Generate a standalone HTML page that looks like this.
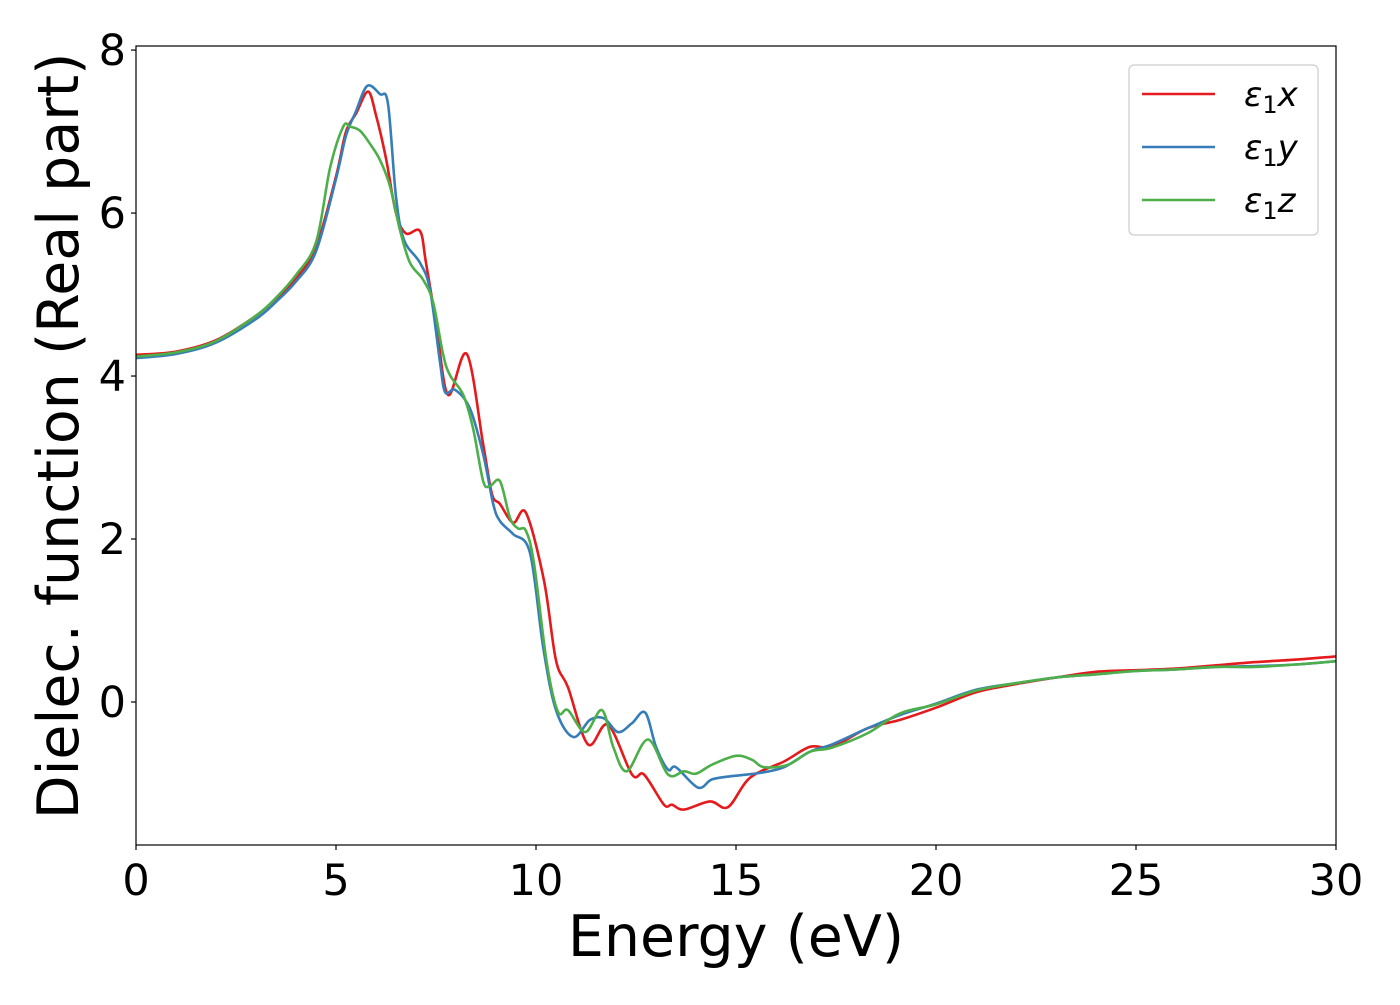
<!DOCTYPE html>
<html><head><meta charset="utf-8"><style>
html,body{margin:0;padding:0;background:#fff;}
svg text{font-family:"DejaVu Sans","Liberation Sans",sans-serif;}
</style></head><body>
<svg width="1400" height="1000" xmlns="http://www.w3.org/2000/svg">
<g id="plot"></g>
<g id="axes"></g>
</svg>
<script>
const xTicks=[0,5,10,15,20,25,30];
const yTicks=[0,2,4,6,8];
const seriesNames=["ε1x","ε1y","ε1z"];
const seriesColors=["#e41a1c","#377eb8","#4daf4a"];
const redE=[0,1,2,3,3.5,4,4.5,5,5.25,5.5,5.8,6.0,6.25,6.5,6.75,7.1,7.25,7.5,7.8,8.27,8.68,8.9,9.1,9.43,9.75,10.2,10.5,10.8,11.3,11.8,12.4,12.7,13.2,13.4,13.7,14.35,14.8,15.35,16.2,16.85,17.4,18.3,19.1,20,21,22,23,24,25,26,27,28,29,30];
const redV=[4.26,4.3,4.44,4.74,4.95,5.2,5.58,6.45,7.0,7.22,7.49,7.2,6.67,6.0,5.75,5.78,5.39,4.66,3.77,4.27,3.16,2.55,2.43,2.2,2.32,1.49,0.51,0.18,-0.52,-0.28,-0.89,-0.89,-1.26,-1.26,-1.32,-1.22,-1.29,-0.93,-0.73,-0.55,-0.55,-0.32,-0.22,-0.07,0.12,0.22,0.3,0.37,0.39,0.41,0.45,0.49,0.52,0.56];
const blueE=[0,1,2,3,3.5,4,4.5,5,5.25,5.5,5.78,6.1,6.3,6.5,6.7,7.1,7.35,7.6,7.73,7.98,8.35,8.68,8.93,9.1,9.43,9.85,10.18,10.5,10.93,11.35,11.7,12.05,12.4,12.73,13.0,13.3,13.5,14.05,14.4,14.9,15.6,16.2,16.85,17.4,18.3,19.1,20,21,22,23,24,25,26,27,28,29,30];
const blueV=[4.22,4.27,4.41,4.7,4.91,5.16,5.53,6.42,6.95,7.25,7.56,7.46,7.34,6.2,5.67,5.39,5.06,4.17,3.8,3.83,3.6,3.04,2.43,2.22,2.06,1.83,0.67,-0.1,-0.43,-0.22,-0.2,-0.37,-0.26,-0.13,-0.55,-0.83,-0.8,-1.05,-0.95,-0.91,-0.87,-0.8,-0.61,-0.52,-0.32,-0.16,-0.02,0.15,0.23,0.3,0.34,0.38,0.4,0.43,0.44,0.46,0.5];
const greenE=[0,1,2,3,3.5,4,4.5,4.85,5.18,5.35,5.6,5.85,6.1,6.35,6.6,6.85,7.18,7.43,7.68,7.85,8.18,8.43,8.68,8.85,9.1,9.35,9.55,9.75,9.95,10.27,10.55,10.8,11.23,11.65,11.93,12.27,12.8,13.3,13.7,14.0,14.4,15.0,15.4,15.7,16.3,16.85,17.4,18.3,19.1,20,21,22,23,24,25,26,27,28,29,30];
const greenV=[4.24,4.29,4.43,4.74,4.96,5.24,5.64,6.55,7.06,7.06,7.01,6.85,6.65,6.33,5.79,5.39,5.18,4.9,4.26,4.01,3.77,3.35,2.71,2.65,2.71,2.26,2.13,2.1,1.7,0.48,-0.12,-0.1,-0.37,-0.1,-0.55,-0.85,-0.46,-0.89,-0.85,-0.88,-0.77,-0.66,-0.71,-0.8,-0.77,-0.61,-0.56,-0.38,-0.14,-0.03,0.14,0.23,0.3,0.34,0.38,0.4,0.43,0.43,0.46,0.5];

const X0=136,X1=1336,Y0=46,Y1=845;
const xMin=0,xMax=30,yMin=-1.755,yMax=8.05;
function sx(v){return X0+(v-xMin)/(xMax-xMin)*(X1-X0);}
function sy(v){return Y1-(v-yMin)/(yMax-yMin)*(Y1-Y0);}
const NS="http://www.w3.org/2000/svg";
function mk(tag,attrs,parent){const e=document.createElementNS(NS,tag);for(const k in attrs)e.setAttribute(k,attrs[k]);parent.appendChild(e);return e;}
function pathFor(E,V){
  const p=E.map((e,i)=>[sx(e),sy(V[i])]);
  let d="M"+p[0][0].toFixed(1)+","+p[0][1].toFixed(1);
  for(let i=0;i<p.length-1;i++){
    const p0=p[Math.max(0,i-1)],p1=p[i],p2=p[i+1],p3=p[Math.min(p.length-1,i+2)];
    const c1=[p1[0]+(p2[0]-p0[0])/6,p1[1]+(p2[1]-p0[1])/6];
    const c2=[p2[0]-(p3[0]-p1[0])/6,p2[1]-(p3[1]-p1[1])/6];
    d+=" C"+c1[0].toFixed(1)+","+c1[1].toFixed(1)+" "+c2[0].toFixed(1)+","+c2[1].toFixed(1)+" "+p2[0].toFixed(1)+","+p2[1].toFixed(1);
  }
  return d;
}
const plot=document.getElementById("plot"),axes=document.getElementById("axes");
const clip=mk("clipPath",{id:"cp"},plot);mk("rect",{x:X0,y:Y0,width:X1-X0,height:Y1-Y0},clip);
const data=[[redE,redV],[blueE,blueV],[greenE,greenV]];
const lineNames=["line-eps1x","line-eps1y","line-eps1z"];
data.forEach((s,i)=>{
  const el=mk("path",{d:pathFor(s[0],s[1]),fill:"none",stroke:seriesColors[i],"stroke-width":2.6,"clip-path":"url(#cp)"},plot);
  
  
});
const frame=mk("rect",{x:X0,y:Y0,width:X1-X0,height:Y1-Y0,fill:"none",stroke:"#000","stroke-width":1.2},axes);


xTicks.forEach(t=>{
  const x=sx(t);
  mk("line",{x1:x,x2:x,y1:Y1,y2:Y1+5,stroke:"#000","stroke-width":1.2},axes);
  const tx=mk("text",{x:x,y:Y1+50,"text-anchor":"middle","font-size":43},axes);tx.textContent=t;
  
  
});
yTicks.forEach(t=>{
  const y=sy(t);
  mk("line",{x1:X0-5,x2:X0,y1:y,y2:y,stroke:"#000","stroke-width":1.2},axes);
  const tx=mk("text",{x:X0-10,y:y+15,"text-anchor":"end","font-size":43},axes);tx.textContent=t;
  
  
});
const xl=mk("text",{x:736,y:956,"text-anchor":"middle","font-size":57},axes);xl.textContent="Energy (eV)";


const yl=mk("text",{x:0,y:0,"text-anchor":"middle","font-size":57,transform:"translate(78,436) rotate(-90)"},axes);yl.textContent="Dielec. function (Real part)";


const lg=mk("g",{},axes);


mk("rect",{x:1129,y:65,width:189,height:170,rx:5,fill:"#fff",stroke:"#ccc","stroke-width":1.2},lg);
const legNames=["legend-entry-x","legend-entry-y","legend-entry-z"];
const letters=["x","y","z"];
seriesNames.forEach((n,i)=>{
  const y=94+i*53;
  const g=mk("g",{},lg);
  
  
  mk("line",{x1:1142,x2:1215,y1:y,y2:y,stroke:seriesColors[i],"stroke-width":2.6},g);
  const t=mk("text",{x:1244,y:y+12,"font-size":34,"font-style":"italic"},g);
  const a=mk("tspan",{},t);a.textContent="ε";
  const b=mk("tspan",{"font-style":"normal","font-size":24,dy:7},t);b.textContent="1";
  const c=mk("tspan",{dy:-7},t);c.textContent=letters[i];
});
</script>
</body></html>
